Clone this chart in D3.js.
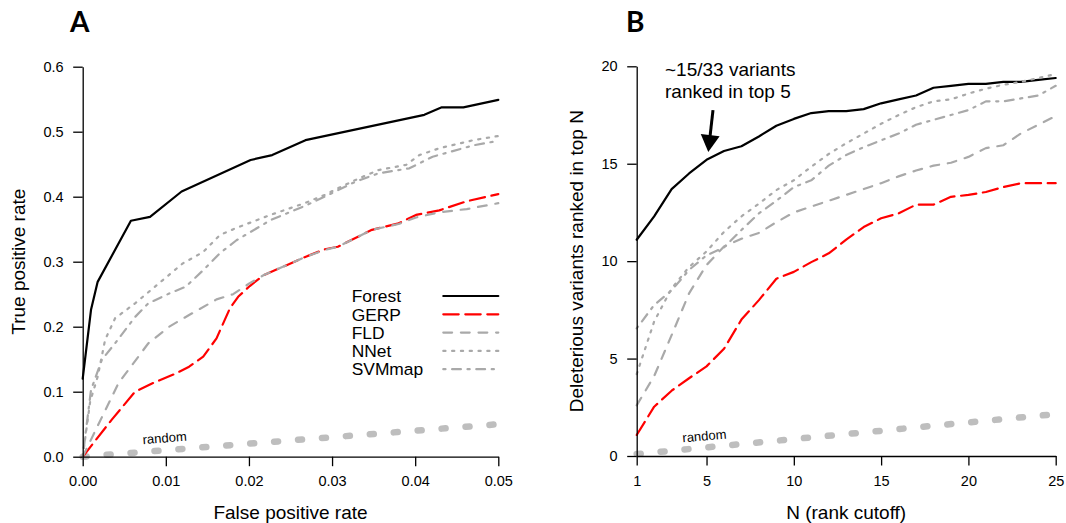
<!DOCTYPE html>
<html>
<head>
<meta charset="utf-8">
<script src="https://cdn.jsdelivr.net/npm/d3@7"></script>
<style>
  body { margin: 0; background: #fff; }
  svg { display: block; font-family: "Liberation Sans", Arial, Helvetica, sans-serif; }
</style>
</head>
<body>
<svg id="chart" width="1066" height="523"></svg>
<script>
// ---------- data ----------
const methods = ["Forest", "GERP", "FLD", "NNet", "SVMmap"];

// Panel A : ROC (false positive rate -> true positive rate)
const fprForest = [0, 0.001, 0.0018, 0.0058, 0.0081, 0.0119, 0.0202, 0.0228, 0.0268, 0.0411, 0.0432, 0.0458, 0.05];
const tprForest = [0.12, 0.226, 0.269, 0.363, 0.369, 0.408, 0.4565, 0.464, 0.487, 0.526, 0.5375, 0.5375, 0.549];

const fprGerp = [0, 0.0035, 0.0063, 0.0084, 0.0112, 0.0128, 0.0145, 0.0161, 0.0177, 0.0187, 0.0201, 0.0218, 0.0246, 0.0267, 0.0291, 0.0307, 0.0348, 0.038, 0.0401, 0.0429, 0.0462, 0.05];
const tprGerp = [0, 0.057, 0.100, 0.113, 0.128, 0.1385, 0.154, 0.182, 0.228, 0.246, 0.2626, 0.2795, 0.295, 0.307, 0.319, 0.323, 0.349, 0.359, 0.372, 0.379, 0.393, 0.404];

const fprFld = [0, 0.0043, 0.0079, 0.0104, 0.0128, 0.0161, 0.0181, 0.0201, 0.0218, 0.0246, 0.0267, 0.0291, 0.0307, 0.0348, 0.038, 0.0401, 0.0429, 0.0462, 0.05];
const tprFld = [0, 0.113, 0.1745, 0.2, 0.218, 0.242, 0.25, 0.267, 0.2795, 0.295, 0.307, 0.318, 0.323, 0.349, 0.358, 0.368, 0.376, 0.381, 0.39];

const fprNnet = [0, 0.0009, 0.0018, 0.0027, 0.0039, 0.0063, 0.0092, 0.012, 0.0145, 0.0165, 0.0185, 0.0226, 0.0267, 0.0291, 0.0307, 0.0332, 0.0356, 0.0389, 0.0405, 0.0429, 0.047, 0.05];
const tprNnet = [0, 0.085, 0.123, 0.18, 0.213, 0.236, 0.267, 0.297, 0.315, 0.341, 0.352, 0.372, 0.39, 0.4026, 0.413, 0.428, 0.441, 0.449, 0.464, 0.4745, 0.487, 0.4934];

const fprSvm = [0, 0.001, 0.0023, 0.0039, 0.0063, 0.0079, 0.0104, 0.0124, 0.0145, 0.0165, 0.0185, 0.0226, 0.0267, 0.0291, 0.0328, 0.0356, 0.0393, 0.0421, 0.047, 0.05];
const tprSvm = [0, 0.1026, 0.149, 0.1745, 0.215, 0.236, 0.251, 0.2615, 0.287, 0.313, 0.333, 0.364, 0.3857, 0.40, 0.423, 0.436, 0.4437, 0.4615, 0.479, 0.486];

const fprRandom = [0, 0.05];
const tprRandom = [0, 0.05];

// Panel B : deleterious variants ranked in top N
const rankN = [1, 2, 3, 4, 5, 6, 7, 8, 9, 10, 11, 12, 13, 14, 15, 16, 17, 18, 19, 20, 21, 22, 23, 24, 25];
const topForest = [11.1, 12.3, 13.7, 14.5, 15.2, 15.65, 15.9, 16.4, 16.95, 17.3, 17.6, 17.7, 17.7, 17.8, 18.1, 18.3, 18.5, 18.9, 19.0, 19.1, 19.1, 19.2, 19.2, 19.3, 19.4];
const topGerp = [1.08, 2.53, 3.35, 3.99, 4.6, 5.5, 7.0, 8.0, 9.1, 9.45, 9.95, 10.4, 11.1, 11.75, 12.2, 12.45, 12.9, 12.9, 13.3, 13.4, 13.55, 13.8, 14.0, 14.0, 14.0];
const topFld = [2.6, 4.1, 6.2, 8.35, 9.8, 10.75, 11.15, 11.45, 12.0, 12.5, 12.8, 13.1, 13.4, 13.7, 14.0, 14.35, 14.65, 14.9, 15.05, 15.35, 15.8, 15.95, 16.55, 17.0, 17.45];
const topNnet = [4.2, 6.9, 8.6, 9.7, 10.5, 11.5, 12.3, 12.95, 13.65, 14.15, 14.85, 15.5, 16.05, 16.55, 17.05, 17.5, 17.9, 18.2, 18.3, 18.6, 18.85, 19.05, 19.2, 19.4, 19.6];
const topSvm = [6.55, 7.75, 8.5, 9.55, 10.3, 10.7, 11.6, 12.45, 13.1, 13.8, 14.15, 14.9, 15.45, 15.85, 16.2, 16.55, 17.0, 17.25, 17.5, 17.75, 18.2, 18.2, 18.35, 18.5, 19.0];
const rankRandom = [1, 25];
const topRandom = [0.1, 2.15];

const ticksA_x = [0, 0.01, 0.02, 0.03, 0.04, 0.05];
const ticksA_y = [0, 0.1, 0.2, 0.3, 0.4, 0.5, 0.6];
const ticksB_x = [1, 5, 10, 15, 20, 25];
const ticksB_y = [0, 5, 10, 15, 20];

// ---------- styles ----------
const lw = 2.2;
const lineStyle = {
    Forest: { color: "#000", dash: null },
    GERP:   { color: "#ff0000", dash: [7 * lw, 3 * lw] },
    FLD:    { color: "#a9a9a9", dash: [4 * lw, 4 * lw] },
    NNet:   { color: "#a9a9a9", dash: [1 * lw, 3 * lw] },
    SVMmap: { color: "#a9a9a9", dash: [1 * lw, 3 * lw, 4 * lw, 3 * lw] }
};

const svg = d3.select("#chart");
const zip = (xs, ys) => xs.map((x, i) => [x, ys[i]]);

function drawPanel(opts) {
    const x = d3.scaleLinear().domain(opts.xDomain).range(opts.xRange);
    const y = d3.scaleLinear().domain(opts.yDomain).range(opts.yRange);
    const g = svg.append("g");

    const line = d3.line().x(d => x(d[0])).y(d => y(d[1]));

    // random baseline
    g.append("path")
        .datum(opts.random)
        .attr("d", line)
        .attr("fill", "none")
        .attr("stroke", "#bebebe")
        .attr("stroke-width", 6.5)
        .attr("stroke-linecap", "round")
        .attr("stroke-dasharray", "4,20");

    const rl = opts.randomLabel;
    g.append("text")
        .attr("transform", `translate(${x(rl[0])},${y(rl[1])}) rotate(${rl[2]})`)
        .attr("text-anchor", "middle")
        .style("font-size", "13px")
        .attr("fill", "#000")
        .text("random");

    // method curves
    methods.forEach((m, i) => {
        const st = lineStyle[m];
        g.append("path")
            .datum(opts.series[i])
            .attr("d", line)
            .attr("fill", "none")
            .attr("stroke", st.color)
            .attr("stroke-width", lw)
            .attr("stroke-linecap", "round")
            .attr("stroke-linejoin", "round")
            .attr("stroke-dasharray", st.dash ? st.dash.join(",") : null);
    });

    // axes
    const xAxis = g.append("g")
        .attr("transform", `translate(0,${opts.yRange[0]})`)
        .call(d3.axisBottom(x).tickValues(opts.xTicks).tickFormat(opts.xFormat)
            .tickSize(9.5).tickSizeOuter(0).tickPadding(10));
    const yAxis = g.append("g")
        .attr("transform", `translate(${opts.xRange[0]},0)`)
        .call(d3.axisLeft(y).tickValues(opts.yTicks).tickFormat(opts.yFormat)
            .tickSize(9.5).tickSizeOuter(0).tickPadding(9.5));
    [xAxis, yAxis].forEach(a => {
        a.attr("font-family", null).attr("font-size", null);
        a.selectAll("path, line").attr("stroke", "#000").attr("stroke-width", 1.3);
        a.selectAll("text").style("font-size", "14.5px").attr("fill", "#000");
    });

    // axis titles
    g.append("text")
        .attr("x", (opts.xRange[0] + opts.xRange[1]) / 2)
        .attr("y", 519)
        .attr("text-anchor", "middle")
        .style("font-size", "19px")
        .text(opts.xTitle);
    g.append("text")
        .attr("transform", `translate(${opts.yTitleX},${(opts.yRange[0] + opts.yRange[1]) / 2}) rotate(-90)`)
        .attr("text-anchor", "middle")
        .style("font-size", "19px")
        .text(opts.yTitle);

    // panel letter
    g.append("text")
        .attr("x", opts.letterX)
        .attr("y", 32)
        .style("font-family", "Lato, 'Liberation Sans', sans-serif")
        .style("font-weight", "bold")
        .style("font-size", "28px")
        .text(opts.letter);

    return { x, y, g };
}

const A = drawPanel({
    xDomain: [0, 0.05], xRange: [82.7, 498.3],
    yDomain: [0, 0.6], yRange: [456.7, 66.7],
    xTicks: ticksA_x, yTicks: ticksA_y,
    xFormat: d3.format(".2f"), yFormat: d3.format(".1f"),
    series: [zip(fprForest, tprForest), zip(fprGerp, tprGerp), zip(fprFld, tprFld),
             zip(fprNnet, tprNnet), zip(fprSvm, tprSvm)],
    random: zip(fprRandom, tprRandom),
    randomLabel: [0.0099, 0.022, -4.5],
    xTitle: "False positive rate", yTitle: "True positive rate", yTitleX: 25,
    letter: "A", letterX: 70
});

const B = drawPanel({
    xDomain: [1, 25], xRange: [636.7, 1055.7],
    yDomain: [0, 20], yRange: [456, 66.3],
    xTicks: ticksB_x, yTicks: ticksB_y,
    xFormat: d3.format("d"), yFormat: d3.format("d"),
    series: [zip(rankN, topForest), zip(rankN, topGerp), zip(rankN, topFld),
             zip(rankN, topNnet), zip(rankN, topSvm)],
    random: zip(rankRandom, topRandom),
    randomLabel: [4.9, 0.8, -5],
    xTitle: "N (rank cutoff)", yTitle: "Deleterious variants ranked in top N", yTitleX: 583,
    letter: "B", letterX: 626
});

// ---------- legend (panel A) ----------
const legend = svg.append("g");
methods.forEach((m, i) => {
    const cy = 296 + i * 18.3;
    const st = lineStyle[m];
    legend.append("text")
        .attr("x", 351.7)
        .attr("y", cy + 6.2)
        .style("font-size", "17.4px")
        .text(m);
    legend.append("line")
        .attr("x1", 443.3).attr("x2", 498.3)
        .attr("y1", cy).attr("y2", cy)
        .attr("stroke", st.color)
        .attr("stroke-width", lw)
        .attr("stroke-linecap", "round")
        .attr("stroke-dasharray", st.dash ? st.dash.join(",") : null);
});

// ---------- annotation (panel B) ----------
const note = B.g.append("text").style("font-size", "19px");
note.append("tspan").attr("x", 665).attr("y", 76).text("~15/33 variants");
note.append("tspan").attr("x", 665).attr("y", 98.3).text("ranked in top 5");

const tail = [B.x(5.37), B.y(17.75)];
const tip = [B.x(5.1), B.y(15.6)];
const dx = tip[0] - tail[0], dy = tip[1] - tail[1];
const len = Math.hypot(dx, dy);
const ux = dx / len, uy = dy / len;
const headLen = 17, headHalf = 9.5;
const base = [tip[0] - ux * headLen, tip[1] - uy * headLen];
B.g.append("line")
    .attr("x1", tail[0]).attr("y1", tail[1])
    .attr("x2", base[0] + ux * 2).attr("y2", base[1] + uy * 2)
    .attr("stroke", "#000").attr("stroke-width", 3);
B.g.append("path")
    .attr("d", d3.line()([
        tip,
        [base[0] - uy * headHalf, base[1] + ux * headHalf],
        [base[0] + uy * headHalf, base[1] - ux * headHalf]
    ]) + "Z")
    .attr("fill", "#000");
</script>
</body>
</html>
